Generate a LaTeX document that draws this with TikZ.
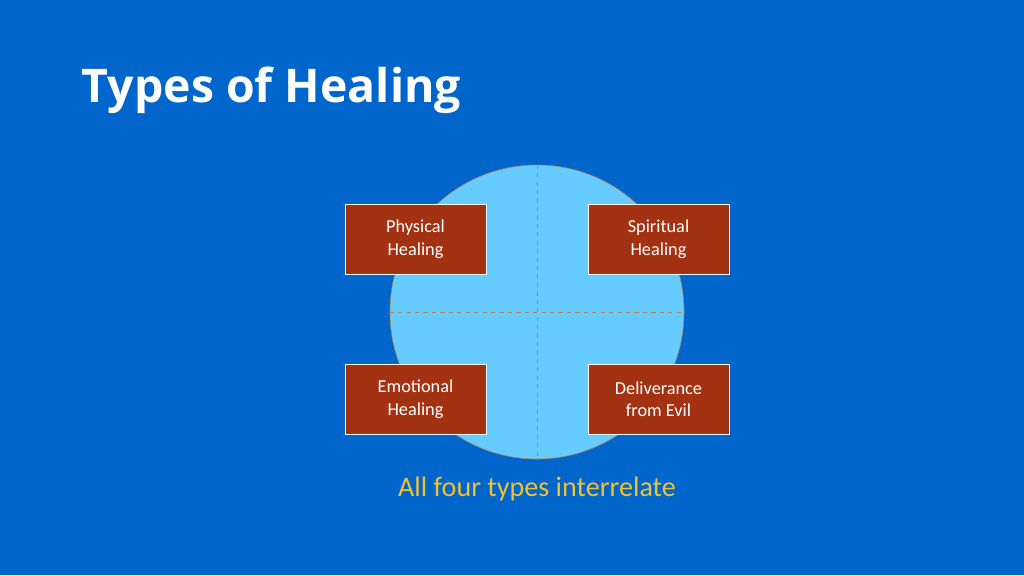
\documentclass[tikz,border=0pt]{standalone}
\usepackage{fontspec}
\setmainfont{Carlito}
\newfontfamily\titlefont{Open Sans}
\usetikzlibrary{positioning}
\definecolor{bgblue}{HTML}{0066CC}
\definecolor{discblue}{HTML}{66CCFF}
\definecolor{boxred}{HTML}{A33212}
\definecolor{rimorange}{HTML}{C0804A}
\definecolor{capyellow}{HTML}{F2C12E}
\tikzset{
  healbox/.style={draw=white, fill=boxred, text=white, minimum width=141*0.025cm,
    minimum height=70*0.025cm, align=center, font=\fontsize{13}{16}\selectfont},
}
\begin{document}
\begin{tikzpicture}[x=0.025cm,y=-0.025cm]
    \fill[bgblue] (0,0) rectangle (1024,575);
    \useasboundingbox (0,0) rectangle (1024,575);
    \node[anchor=base west, text=white, font=\titlefont\bfseries\fontsize{33}{40}\selectfont] (title) at (77,102) {Types of Healing};
    \node[circle, draw=rimorange, fill=discblue, minimum size=294*0.025cm, inner sep=0pt] (disc) at (537,312) {};
    \draw[rimorange, dashed] (disc.north) -- (disc.south);
    \draw[rimorange, dashed] (disc.west) -- (disc.east);
    \node[healbox] (physical) at (415.5,239) {Physical\\ Healing};
    \node[healbox] (spiritual) at (658.5,239) {Spiritual\\ Healing};
    \node[healbox] (emotional) at (415.5,399) {Emotional\\ Healing};
    \node[healbox] (deliver) at (658.5,399) {Deliverance\\ from Evil};
    \node[text=capyellow, font=\fontsize{20}{24}\selectfont] (caption) at (537,489) {All four types interrelate};
\end{tikzpicture}
\end{document}
